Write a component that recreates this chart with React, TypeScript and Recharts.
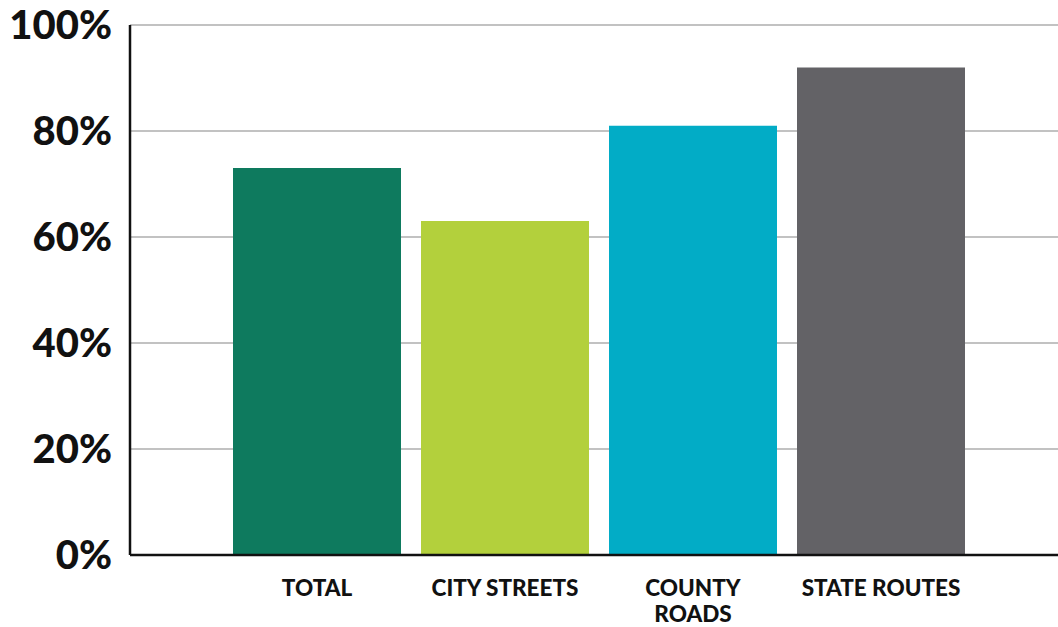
import { BarChart, Bar, XAxis, YAxis, CartesianGrid, Cell } from "recharts";

const categories = ["TOTAL", "CITY STREETS", "COUNTY\nROADS", "STATE ROUTES"];
const shares = [73, 63, 81, 92];
const barColors = ["#0e7a5e", "#b3d03c", "#02acc6", "#636266"];
const yTicks = [0, 20, 40, 60, 80, 100];

const data = categories.map((name, i) => ({ name, value: shares[i] }));

const FONT = "Lato, 'Open Sans', sans-serif";

function CategoryTick({ x, y, payload }: any) {
  const lines = String(payload.value).split("\n");
  return (
    <text
      x={x}
      y={y}
      textAnchor="middle"
      fontFamily={FONT}
      fontWeight={900}
      fontSize={22.5}
      fill="#111"
    >
      {lines.map((line, i) => (
        <tspan key={i} x={x} dy={i === 0 ? 33 : 26}>
          {line}
        </tspan>
      ))}
    </text>
  );
}

export default function App() {
  return (
    <div style={{ position: "absolute", left: 0, top: 0, background: "#fff" }}>
      <BarChart
        width={1058}
        height={627}
        data={data}
        margin={{ top: 25, right: 0, bottom: 0, left: 0 }}
        barCategoryGap={10}
      >
        <CartesianGrid vertical={false} stroke="#c2c2c2" strokeWidth={2} />
        <XAxis
          dataKey="name"
          padding={{ left: 93, right: 83 }}
          axisLine={{ stroke: "#111", strokeWidth: 2.5 }}
          tickLine={false}
          tick={<CategoryTick />}
          interval={0}
          height={72}
        />
        <YAxis
          domain={[0, 100]}
          ticks={yTicks}
          width={130}
          axisLine={{ stroke: "#111", strokeWidth: 2.5 }}
          tickLine={false}
          tickMargin={12}
          tickFormatter={(v) => `${v}%`}
          tick={{
            fill: "#111",
            fontSize: 40,
            fontWeight: 900,
            fontFamily: FONT,
          }}
        />
        <Bar dataKey="value" isAnimationActive={false}>
          {data.map((d, i) => (
            <Cell key={d.name} fill={barColors[i]} />
          ))}
        </Bar>
      </BarChart>
    </div>
  );
}
